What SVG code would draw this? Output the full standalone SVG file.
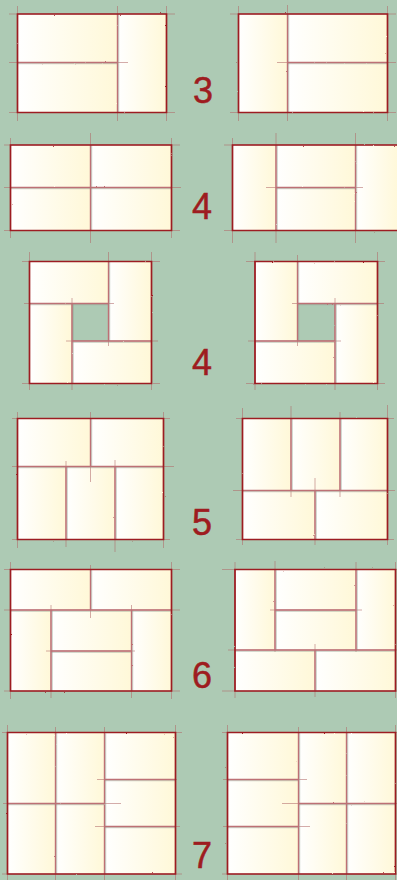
<svg xmlns="http://www.w3.org/2000/svg" width="397" height="880" viewBox="0 0 397 880">
<defs>
<linearGradient id="cellg" x1="0" y1="0" x2="1" y2="0">
<stop offset="0" stop-color="#ffffff"/>
<stop offset="1" stop-color="#fff8d8"/>
</linearGradient>
<filter id="rough" x="-5%" y="-5%" width="110%" height="110%">
<feTurbulence type="fractalNoise" baseFrequency="0.9" numOctaves="2" seed="3" result="n"/>
<feDisplacementMap in="SourceGraphic" in2="n" scale="1.6" xChannelSelector="R" yChannelSelector="G"/>
</filter>
<style>
.cell{fill:url(#cellg);stroke:none}
.ext{fill:none;stroke:#b06868;stroke-width:1;stroke-opacity:0.55}
.edge{fill:none;stroke:#9d1b20;stroke-width:1.7;filter:url(#rough)}
.inner{fill:none;stroke:#bd6f75;stroke-width:1.4;filter:url(#rough)}
.innerg{fill:none;stroke:#8f9f90;stroke-width:0.7;stroke-opacity:0.8}
.num{font-family:"Liberation Sans",Arial,sans-serif;font-size:36px;fill:#9e1c20;stroke:#9e1c20;stroke-width:0.5;text-anchor:middle}
</style>
</defs>
<rect width="397" height="880" fill="#adcab4"/>

<g id="panel-3a">
<rect class="cell" x="17.5" y="14" width="100" height="48.5"/>
<rect class="cell" x="17.5" y="62.5" width="100" height="50"/>
<rect class="cell" x="117.5" y="14" width="49" height="98.5"/>
<path class="ext" d="M9 14 H175 M9 112.5 H175 M17.5 6 V121 M166.5 6 V121 M117.5 6 V121 M9 62.5 H128"/>
<path class="innerg" d="M118.7 14 V112.5 M17.5 63.7 H117.5"/>
<path class="inner" d="M117.5 14 V112.5 M17.5 62.5 H117.5"/>
<path class="edge" d="M17.5 14 H166.5 V112.5 H17.5 Z"/>
</g>
<g id="panel-3b">
<rect class="cell" x="238.5" y="14" width="49" height="98.5"/>
<rect class="cell" x="287.5" y="14" width="100" height="48.5"/>
<rect class="cell" x="287.5" y="62.5" width="100" height="50"/>
<path class="ext" d="M230 14 H396 M230 112.5 H396 M238.5 6 V121 M387.5 6 V121 M287.5 5 V121 M277 62.5 H396"/>
<path class="innerg" d="M288.7 14 V112.5 M287.5 63.7 H387.5"/>
<path class="inner" d="M287.5 14 V112.5 M287.5 62.5 H387.5"/>
<path class="edge" d="M238.5 14 H387.5 V112.5 H238.5 Z"/>
</g>
<text id="label-3" class="num" x="203" y="103">3</text>

<g id="panel-4a">
<rect class="cell" x="10.5" y="145" width="80" height="42.5"/>
<rect class="cell" x="90.5" y="145" width="81" height="42.5"/>
<rect class="cell" x="10.5" y="187.5" width="80" height="43"/>
<rect class="cell" x="90.5" y="187.5" width="81" height="43"/>
<path class="ext" d="M4 145 H180 M4 230.5 H180 M10.5 138 V238 M171.5 138 V238 M90.5 133 V243 M4 187.5 H181"/>
<path class="innerg" d="M91.7 145 V230.5 M10.5 188.7 H171.5"/>
<path class="inner" d="M90.5 145 V230.5 M10.5 187.5 H171.5"/>
<path class="edge" d="M10.5 145 H171.5 V230.5 H10.5 Z"/>
</g>
<g id="panel-4b">
<rect class="cell" x="232.5" y="145" width="43.5" height="85.5"/>
<rect class="cell" x="276" y="145" width="79.5" height="42.5"/>
<rect class="cell" x="276" y="187.5" width="79.5" height="43"/>
<rect class="cell" x="355.5" y="145" width="44" height="85.5"/>
<path class="ext" d="M224 145 H400 M224 230.5 H400 M232.5 138 V243 M276 133 V243 M355.5 133 V243 M266 187.5 H363"/>
<path class="innerg" d="M277.2 145 V230.5 M356.7 145 V230.5 M276 188.7 H355.5"/>
<path class="inner" d="M276 145 V230.5 M355.5 145 V230.5 M276 187.5 H355.5"/>
<path class="edge" d="M400 145 H232.5 V230.5 H400"/>
</g>
<text id="label-4a" class="num" x="202" y="219">4</text>

<g id="panel-4c">
<rect class="cell" x="29.5" y="261.5" width="79" height="42"/>
<rect class="cell" x="108.5" y="261.5" width="43" height="79.5"/>
<rect class="cell" x="72" y="341" width="79.5" height="42.5"/>
<rect class="cell" x="29.5" y="303.5" width="42.5" height="80"/>
<path class="ext" d="M22 261.5 H160 M22 383.5 H160 M29.5 252 V390 M151.5 252 V390 M24 303.5 H114 M108.5 252 V346 M66 341 H158 M72 298 V390"/>
<path class="innerg" d="M29.5 304.7 H108.5 M109.7 261.5 V341 M72 342.2 H151.5 M73.2 303.5 V383.5"/>
<path class="inner" d="M29.5 303.5 H108.5 M108.5 261.5 V341 M72 341 H151.5 M72 303.5 V383.5"/>
<path class="edge" d="M29.5 261.5 H151.5 V383.5 H29.5 Z"/>
</g>
<g id="panel-4d">
<rect class="cell" x="255" y="261.5" width="42.5" height="79.5"/>
<rect class="cell" x="297.5" y="261.5" width="80" height="42"/>
<rect class="cell" x="335" y="303.5" width="42.5" height="80"/>
<rect class="cell" x="255" y="341" width="80" height="42.5"/>
<path class="ext" d="M246 261.5 H385 M246 383.5 H385 M255 252 V390 M377.5 252 V390 M297.5 255 V346 M292 303.5 H384 M335 298 V390 M248 341 H341"/>
<path class="innerg" d="M298.7 261.5 V341 M297.5 304.7 H377.5 M336.2 303.5 V383.5 M255 342.2 H335"/>
<path class="inner" d="M297.5 261.5 V341 M297.5 303.5 H377.5 M335 303.5 V383.5 M255 341 H335"/>
<path class="edge" d="M255 261.5 H377.5 V383.5 H255 Z"/>
</g>
<text id="label-4b" class="num" x="202" y="375">4</text>

<g id="panel-5a">
<rect class="cell" x="17.5" y="418.5" width="73" height="48"/>
<rect class="cell" x="90.5" y="418.5" width="73" height="48"/>
<rect class="cell" x="17.5" y="466.5" width="48.5" height="73"/>
<rect class="cell" x="66" y="466.5" width="49" height="73"/>
<rect class="cell" x="115" y="466.5" width="48.5" height="73"/>
<path class="ext" d="M12 418.5 H170 M12 539.5 H170 M17.5 412 V548 M163.5 412 V548 M12 466.5 H174 M90.5 412 V482 M66 461 V547 M115 460 V552"/>
<path class="innerg" d="M17.5 467.7 H163.5 M91.7 418.5 V466.5 M67.2 466.5 V539.5 M116.2 466.5 V539.5"/>
<path class="inner" d="M17.5 466.5 H163.5 M90.5 418.5 V466.5 M66 466.5 V539.5 M115 466.5 V539.5"/>
<path class="edge" d="M17.5 418.5 H163.5 V539.5 H17.5 Z"/>
</g>
<g id="panel-5b">
<rect class="cell" x="242.5" y="418.5" width="48.5" height="72"/>
<rect class="cell" x="291" y="418.5" width="49" height="72"/>
<rect class="cell" x="340" y="418.5" width="47.5" height="72"/>
<rect class="cell" x="242.5" y="490.5" width="72.5" height="49"/>
<rect class="cell" x="315" y="490.5" width="72.5" height="49"/>
<path class="ext" d="M242.5 408 V545 M387.5 405 V545 M236 418.5 H394 M236 539.5 H394 M291 406 V497 M340 412 V497 M233 490.5 H395 M315 478 V545"/>
<path class="innerg" d="M292.2 418.5 V490.5 M341.2 418.5 V490.5 M242.5 491.7 H387.5 M316.2 490.5 V539.5"/>
<path class="inner" d="M291 418.5 V490.5 M340 418.5 V490.5 M242.5 490.5 H387.5 M315 490.5 V539.5"/>
<path class="edge" d="M242.5 418.5 H387.5 V539.5 H242.5 Z"/>
</g>
<text id="label-5" class="num" x="202" y="535">5</text>

<g id="panel-6a">
<rect class="cell" x="10.5" y="569.5" width="80" height="40.5"/>
<rect class="cell" x="90.5" y="569.5" width="81" height="40.5"/>
<rect class="cell" x="10.5" y="610" width="40.5" height="81"/>
<rect class="cell" x="51" y="610" width="80.5" height="41"/>
<rect class="cell" x="51" y="651" width="80.5" height="40"/>
<rect class="cell" x="131.5" y="610" width="40" height="81"/>
<path class="ext" d="M4 569.5 H180 M4 691 H180 M10.5 562 V699 M171.5 562 V699 M4 610 H180 M90.5 565 V618 M51 605 V698 M131.5 605 V698 M46 651 H135"/>
<path class="innerg" d="M10.5 611.2 H171.5 M91.7 569.5 V610 M52.2 610 V691 M132.7 610 V691 M51 652.2 H131.5"/>
<path class="inner" d="M10.5 610 H171.5 M90.5 569.5 V610 M51 610 V691 M131.5 610 V691 M51 651 H131.5"/>
<path class="edge" d="M10.5 569.5 H171.5 V691 H10.5 Z"/>
</g>
<g id="panel-6b">
<rect class="cell" x="235" y="569.5" width="40" height="80.5"/>
<rect class="cell" x="275" y="569.5" width="81" height="40.5"/>
<rect class="cell" x="275" y="610" width="81" height="40"/>
<rect class="cell" x="356" y="569.5" width="39.5" height="80.5"/>
<rect class="cell" x="235" y="650" width="80" height="41"/>
<rect class="cell" x="315" y="650" width="80.5" height="41"/>
<path class="ext" d="M222 569.5 H397 M222 691 H397 M235 562 V698 M395.5 562 V698 M275 561 V652 M356 562 V652 M270 610 H362 M228 650 H397 M315 644 V697"/>
<path class="innerg" d="M276.2 569.5 V650 M357.2 569.5 V650 M275 611.2 H356 M235 651.2 H395.5 M316.2 650 V691"/>
<path class="inner" d="M275 569.5 V650 M356 569.5 V650 M275 610 H356 M235 650 H395.5 M315 650 V691"/>
<path class="edge" d="M235 569.5 H395.5 V691 H235 Z"/>
</g>
<text id="label-6" class="num" x="202" y="688">6</text>

<g id="panel-7a">
<rect class="cell" x="7.5" y="732.5" width="48" height="71"/>
<rect class="cell" x="55.5" y="732.5" width="49" height="71"/>
<rect class="cell" x="7.5" y="803.5" width="48" height="70.5"/>
<rect class="cell" x="55.5" y="803.5" width="49" height="70.5"/>
<rect class="cell" x="104.5" y="732.5" width="71" height="47"/>
<rect class="cell" x="104.5" y="779.5" width="71" height="47"/>
<rect class="cell" x="104.5" y="826.5" width="71" height="47.5"/>
<path class="ext" d="M2 732.5 H182 M2 874 H182 M7.5 725 V880 M175.5 725 V880 M55.5 727 V880 M104.5 727 V880 M3 803.5 H121 M97 779.5 H177 M95 826.5 H180"/>
<path class="innerg" d="M56.7 732.5 V874 M105.7 732.5 V874 M7.5 804.7 H104.5 M104.5 780.7 H175.5 M104.5 827.7 H175.5"/>
<path class="inner" d="M55.5 732.5 V874 M104.5 732.5 V874 M7.5 803.5 H104.5 M104.5 779.5 H175.5 M104.5 826.5 H175.5"/>
<path class="edge" d="M7.5 732.5 H175.5 V874 H7.5 Z"/>
</g>
<g id="panel-7b">
<rect class="cell" x="227.5" y="732.5" width="71" height="47"/>
<rect class="cell" x="227.5" y="779.5" width="71" height="47"/>
<rect class="cell" x="227.5" y="826.5" width="71" height="47.5"/>
<rect class="cell" x="298.5" y="732.5" width="48" height="71"/>
<rect class="cell" x="346.5" y="732.5" width="49" height="71"/>
<rect class="cell" x="298.5" y="803.5" width="48" height="70.5"/>
<rect class="cell" x="346.5" y="803.5" width="49" height="70.5"/>
<path class="ext" d="M222 732.5 H397 M222 874 H397 M227.5 725 V880 M395.5 725 V880 M298.5 727 V880 M346.5 727 V880 M223 779.5 H307 M223 826.5 H310 M282 803.5 H397"/>
<path class="innerg" d="M299.7 732.5 V874 M347.7 732.5 V874 M227.5 780.7 H298.5 M227.5 827.7 H298.5 M298.5 804.7 H395.5"/>
<path class="inner" d="M298.5 732.5 V874 M346.5 732.5 V874 M227.5 779.5 H298.5 M227.5 826.5 H298.5 M298.5 803.5 H395.5"/>
<path class="edge" d="M227.5 732.5 H395.5 V874 H227.5 Z"/>
</g>
<text id="label-7" class="num" x="202" y="868">7</text>
</svg>
